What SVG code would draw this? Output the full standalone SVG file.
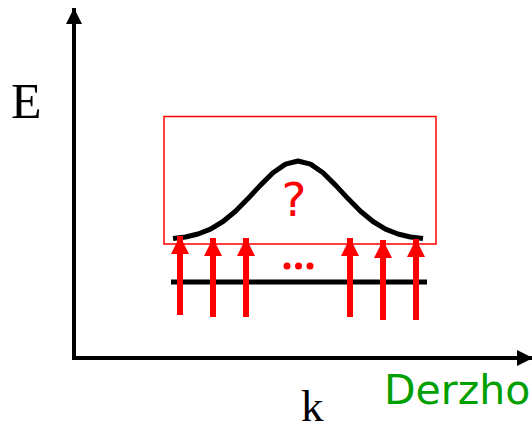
<svg xmlns="http://www.w3.org/2000/svg" width="532" height="432" viewBox="0 0 532 432">
<defs>
<style>
.axis{stroke:#000;stroke-width:4;fill:none}
.red{stroke:#ff0000;stroke-width:6;fill:none}
.serif{font-family:"Liberation Serif","Times New Roman",serif;fill:#000}
</style>
<marker id="ah" viewBox="0 0 10 10" refX="10" refY="5" markerWidth="4" markerHeight="4" orient="auto" markerUnits="strokeWidth"><path d="M0,0 L10,5 L0,10 z" fill="#000"/></marker>
<marker id="rh" viewBox="0 0 10 10" refX="10" refY="5" markerWidth="3" markerHeight="3" orient="auto" markerUnits="strokeWidth"><path d="M0,0 L10,5 L0,10 z" fill="#ff0000"/></marker>
</defs>
<rect width="532" height="432" fill="#fff"/>
<g id="axes">
<line class="axis" x1="74" y1="358" x2="74" y2="8" marker-end="url(#ah)"/>
<line class="axis" x1="72" y1="358" x2="533" y2="358" marker-end="url(#ah)"/>
<text class="serif" x="11" y="118" font-size="50">E</text>
<text class="serif" x="301" y="421" font-size="45">k</text>
</g>
<g id="box">
<rect x="164" y="116.5" width="272" height="127.5" fill="none" stroke="#ff0000" stroke-width="1.5"/>
</g>
<g id="curve">
<polyline fill="none" stroke="#000" stroke-width="5" stroke-linejoin="round" points="173,238.6 185.5,237 198,234 210.5,229.1 223,221.5 235.5,211.2 248,198.6 260.5,185.1 273,172.8 285.5,164.1 298,161 310.5,164.1 323,172.8 335.5,185.1 348,198.6 360.5,211.2 373,221.5 385.5,229.1 398,234 410.5,237 423,238.6"/>
<text x="294" y="216" font-size="47" text-anchor="middle" font-family="'DejaVu Sans',Verdana,sans-serif" fill="#ff0000">?</text>
</g>
<g id="level">
<line x1="171" y1="282" x2="427" y2="282" stroke="#000" stroke-width="5"/>
</g>
<g id="arrows">
<line class="red" x1="180" y1="315" x2="180" y2="236" marker-end="url(#rh)"/>
<line class="red" x1="213" y1="317" x2="213" y2="238" marker-end="url(#rh)"/>
<line class="red" x1="246" y1="317" x2="246" y2="238" marker-end="url(#rh)"/>
<line class="red" x1="350" y1="317" x2="350" y2="238" marker-end="url(#rh)"/>
<line class="red" x1="383" y1="320" x2="383" y2="240" marker-end="url(#rh)"/>
<line class="red" x1="416" y1="320" x2="416" y2="239" marker-end="url(#rh)"/>
</g>
<g id="dots" fill="#ff0000">
<circle cx="287" cy="266" r="3.5"/>
<circle cx="298.5" cy="266" r="3.5"/>
<circle cx="310" cy="266" r="3.5"/>
</g>
<g id="label">
<text x="384" y="404" font-size="41" font-family="'DejaVu Sans',Verdana,sans-serif" fill="#00a000">Derzho</text>
</g>
</svg>
